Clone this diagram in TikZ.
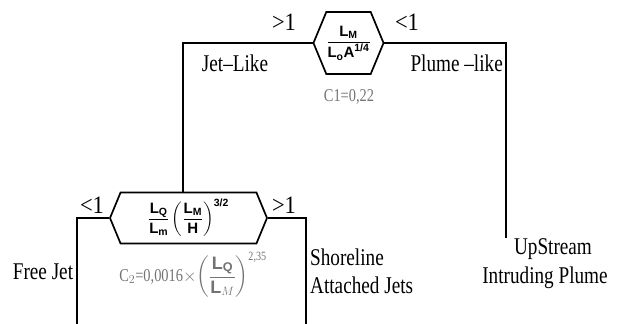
\documentclass[tikz,border=0pt]{standalone}
\usepackage{amsmath}
\usepackage{fontspec}
\setmainfont{Liberation Serif}
\setsansfont{Liberation Sans}
\newfontfamily\lblfont[FakeStretch=0.8]{Liberation Serif}
\newfontfamily\cmpfont[FakeStretch=0.9]{Liberation Serif}
\usetikzlibrary{shapes.symbols,positioning}
\newcommand\hx[1]{\text{\sffamily\bfseries #1}}
\tikzset{
  hexbox/.style={draw, line width=1.7pt, shape=signal, signal to=west and east,
                 signal pointer angle=135, inner sep=0pt,
                 font=\fontsize{15}{17}\selectfont},
  branch/.style={line width=1.5pt},
  lbl/.style={font=\lblfont\fontsize{24}{26}\selectfont, inner sep=0pt},
  cmp/.style={font=\cmpfont\fontsize{25}{27}\selectfont, inner sep=0pt},
  coef/.style={text=black!55, font=\lblfont\fontsize{18}{20}\selectfont, inner sep=0pt}
}
\begin{document}
\begin{tikzpicture}[x=1pt,y=-1pt]
  \useasboundingbox (0,0) rectangle (627,324);
  % decision boxes
  \node[hexbox, minimum width=63pt, minimum height=62pt] (lmratio) at (348.5,43)
    {$\dfrac{\hx{L}_{\hx{M}}}{\hx{L}_{\hx{o}}\hx{A}^{\hx{1/4}}}$};
  \node[hexbox, minimum width=157pt, minimum height=51pt] (lqratio) at (188.5,218)
    {$\dfrac{\hx{L}_{\hx{Q}}}{\hx{L}_{\hx{m}}}\left(\dfrac{\hx{L}_{\hx{M}}}{\hx{H}}\right)^{\hx{3/2}}$};
  % branches
  \coordinate (jetturn) at (183,43);
  \coordinate (plumeturn) at (506,43);
  \coordinate (plumeend) at (506,238);
  \coordinate (freeend) at (77,324);
  \coordinate (shoreend) at (306,324);
  \draw[branch] (lmratio.west) -- (jetturn) -- (jetturn |- lqratio.north);
  \draw[branch] (lmratio.east) -- (plumeturn) -- (plumeend);
  \draw[branch] (lqratio.west) -| (freeend);
  \draw[branch] (lqratio.east) -| (shoreend);
  % comparisons
  \node[cmp] (gtone) at (284,22) {>1};
  \node[cmp] (ltone) at (407,22) {<1};
  \node[cmp] (ltfree) at (92,205) {<1};
  \node[cmp] (gtshore) at (284,205) {>1};
  % regimes
  \node[lbl] (jetlike) at (235,63) {Jet–Like};
  \node[lbl, anchor=east] (plumelike) at (503,63) {Plume –like};
  \node[coef] (cone) at (349,97) {C1=0,22};
  \node[lbl] (upstream) at (553,249) {UpStream};
  \node[lbl] (intruding) at (545,278) {Intruding Plume};
  \node[lbl] (freejet) at (43,272) {Free Jet};
  \node[lbl, anchor=west] (shoreline) at (310,257) {Shoreline};
  \node[lbl, anchor=west] (attached) at (310,285) {Attached Jets};
  \node[coef] (ctwo) at (193,275)
    {C$_2$=0,0016$\times\!\left(\dfrac{\hx{L}_{\hx{Q}}}{\hx{L}_{M}}\right)^{\text{2,35}}$};
\end{tikzpicture}
\end{document}
